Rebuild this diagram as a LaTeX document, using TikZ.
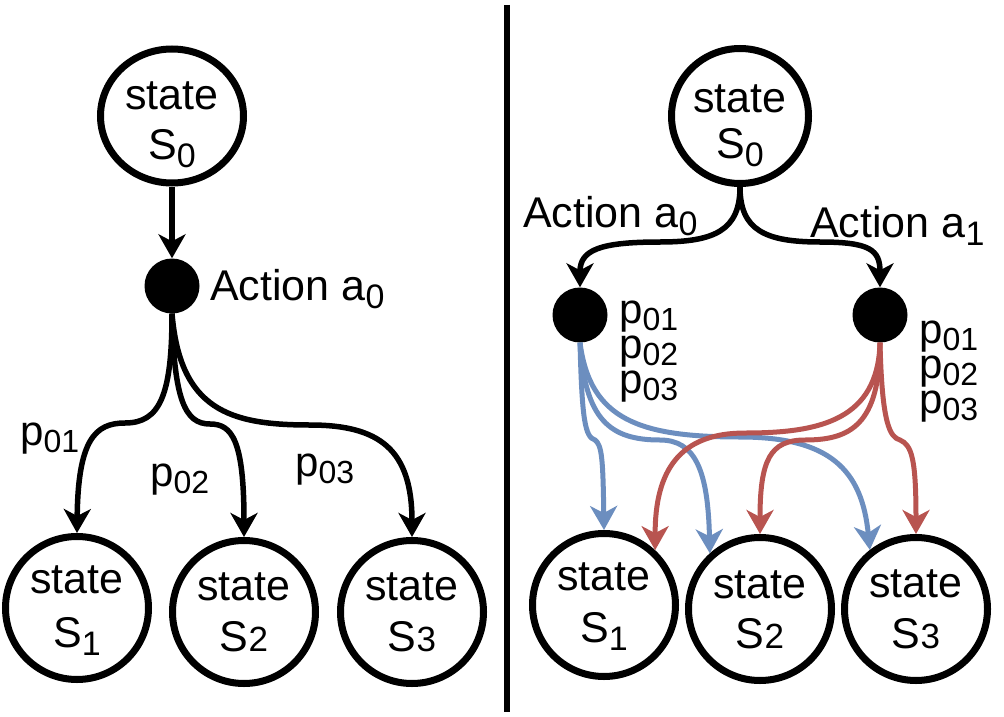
\documentclass[tikz,border=0pt]{standalone}
\usepackage{fontspec}
\setmainfont{Liberation Sans}
\usetikzlibrary{arrows.meta,shapes.geometric}
\newcommand{\ssub}[1]{\raisebox{-8pt}{\fontsize{34}{34}\selectfont #1}}
\newcommand{\psub}[1]{\raisebox{-7pt}{\fontsize{32}{32}\selectfont #1}}
\newcommand{\dsub}[1]{{\fontsize{35}{35}\selectfont #1}}
\definecolor{eblue}{HTML}{6C8EBF}
\definecolor{ered}{HTML}{B85450}
\tikzset{
  stcirc/.style={circle,draw=black,line width=7pt,minimum size=143pt,inner sep=0pt},
  stell/.style={ellipse,draw=black,line width=7pt,inner sep=0pt},
  act/.style={circle,fill=black,minimum size=55pt,inner sep=0pt},
  txt/.style={inner sep=0pt,anchor=base,font=\fontsize{43}{48}\selectfont},
  ltxt/.style={inner sep=0pt,anchor=base west,font=\fontsize{43}{48}\selectfont},
  ptxt/.style={inner sep=0pt,anchor=base west,font=\fontsize{42}{42}\selectfont},
  tip/.style={-{Stealth[length=24pt,width=27pt,inset=7pt]}},
  kedge/.style={tip,line width=5.5pt,draw=black},
  bedge/.style={tip,line width=5pt,draw=eblue},
  redge/.style={tip,line width=5pt,draw=ered},
}
\begin{document}
\begin{tikzpicture}[x=1pt,y=-1pt]
\useasboundingbox (0,0) rectangle (1004,717);
% divider
\coordinate (dtop) at (507,5);
\coordinate (dbot) at (507,712);
\draw[line width=6pt] (dtop) -- (dbot);

% ---------- left ----------
\node[stell,minimum width=143pt,minimum height=134pt] (s0L) at (172,116) {};
\node[txt] (s0Lw) at (172,110) {state};
\node[txt] (s0Ls) at (172,159) {S\ssub{0}};
\node[act] (aL) at (172,286) {};
\node[ltxt] (aLt) at (210,300) {Action a\ssub{0}};

\node[stcirc] (s1L) at (77,608) {};
\node[txt] (s1Lw) at (77,593) {state};
\node[txt] (s1Ls) at (77,647) {S\ssub{1}};
\node[stcirc] (s2L) at (244,612) {};
\node[txt] (s2Lw) at (244,600) {state};
\node[txt] (s2Ls) at (244,651) {S\dsub{2}};
\node[stcirc] (s3L) at (412,612) {};
\node[txt] (s3Lw) at (412,600) {state};
\node[txt] (s3Ls) at (412,651) {S\dsub{3}};

\node[ptxt] (p1L) at (20,445) {p\psub{01}};
\node[ptxt] (p2L) at (150,486) {p\psub{02}};
\node[ptxt] (p3L) at (295,476) {p\psub{03}};

\draw[kedge] (s0L.south) -- (aL.north);
\draw[kedge] (aL.south) .. controls (172,395) and (160,423) .. (125,423)
   .. controls (95,423) and (78,440) .. (s1L.north);
\draw[kedge] (aL.south) .. controls (174,400) and (185,424) .. (210,424)
   .. controls (232,424) and (244,440) .. (s2L.north);
\draw[kedge] (aL.south) .. controls (180,410) and (230,425) .. (310,425)
   .. controls (380,425) and (412,450) .. (s3L.north);

% ---------- right ----------
\node[stell,minimum width=137pt,minimum height=135pt] (s0R) at (740,116) {};
\node[txt] (s0Rw) at (740,112) {state};
\node[txt] (s0Rs) at (740,158) {S\ssub{0}};

\node[act] (aR0) at (580,315) {};
\node[act] (aR1) at (880,315) {};
\node[ltxt] (aR0t) at (523,227) {Action a\ssub{0}};
\node[ltxt] (aR1t) at (810,237) {Action a\ssub{1}};

\node[ptxt] (p1R0) at (619,323) {p\psub{01}};
\node[ptxt] (p2R0) at (619,358) {p\psub{02}};
\node[ptxt] (p3R0) at (619,393) {p\psub{03}};
\node[ptxt] (p1R1) at (919,343) {p\psub{01}};
\node[ptxt] (p2R1) at (919,378) {p\psub{02}};
\node[ptxt] (p3R1) at (919,413) {p\psub{03}};

\node[stcirc] (s1R) at (604,605) {};
\node[txt] (s1Rw) at (604,590) {state};
\node[txt] (s1Rs) at (604,642) {S\ssub{1}};
\node[stcirc] (s2R) at (760,609) {};
\node[txt] (s2Rw) at (760,598) {state};
\node[txt] (s2Rs) at (760,648) {S\dsub{2}};
\node[stcirc] (s3R) at (916,609) {};
\node[txt] (s3Rw) at (916,597) {state};
\node[txt] (s3Rs) at (916,648) {S\dsub{3}};

\draw[kedge] (s0R.south) .. controls (740,230) and (715,242) .. (660,242)
   .. controls (600,242) and (580,250) .. (aR0.north);
\draw[kedge] (s0R.south) .. controls (740,230) and (765,242) .. (820,242)
   .. controls (870,242) and (880,250) .. (aR1.north);

% blue
\draw[bedge] (aR0.south) .. controls (582,420) and (585,437) .. (595,440)
   .. controls (602,445) and (603,460) .. (s1R.north);
\draw[bedge] (aR0.south) .. controls (585,420) and (610,440) .. (660,440)
   .. controls (695,440) and (708,470) .. (s2R.132);
\draw[bedge] (aR0.south) .. controls (590,420) and (640,437) .. (740,437)
   .. controls (830,437) and (862,470) .. (s3R.128);
% red
\draw[redge] (aR1.south) .. controls (878,420) and (820,433) .. (745,433)
   .. controls (680,433) and (655,470) .. (s1R.47);
\draw[redge] (aR1.south) .. controls (880,425) and (850,440) .. (805,440)
   .. controls (770,440) and (760,460) .. (s2R.north);
\draw[redge] (aR1.south) .. controls (882,425) and (890,437) .. (900,440)
   .. controls (912,445) and (916,460) .. (s3R.north);
\end{tikzpicture}
\end{document}
